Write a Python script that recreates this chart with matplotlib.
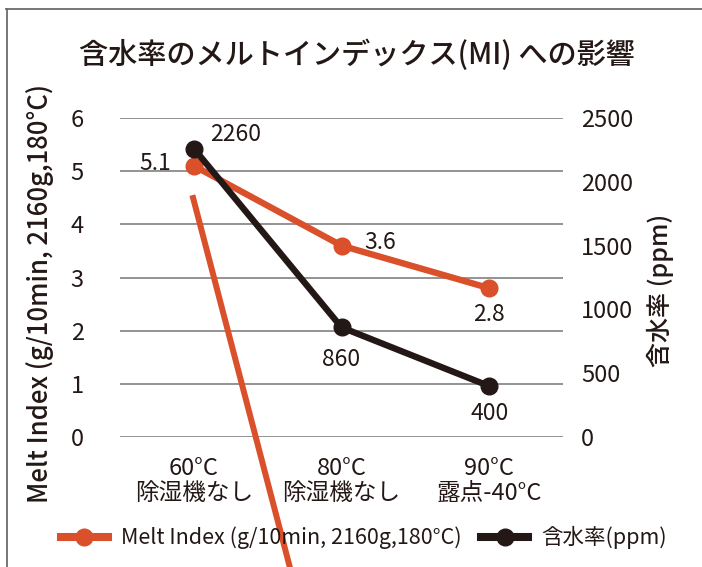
import matplotlib.pyplot as plt
from matplotlib.lines import Line2D

plt.rcParams['font.family'] = ['Noto Sans CJK JP', 'DejaVu Sans']

# Data
categories = ["60°C\n除湿機なし", "80°C\n除湿機なし", "90°C\n露点-40°C"]
melt_index = [5.1, 3.6, 2.8]
water_ppm = [2260, 860, 400]
mi_label_offsets = [(-28, 2), (28, 2), (0, -19)]
ppm_label_offsets = [(30, 10), (0, -23), (0, -20)]

orange = "#D9502A"
black = "#231815"
grid_gray = "#8a8a8a"
text_color = "#231815"

fig = plt.figure(figsize=(7.02, 5.67), dpi=100)
ax = fig.add_axes([0.171, 0.229, 0.631, 0.563])
ax2 = ax.twinx()

x = range(len(categories))

# Melt Index on the left axis, water content on the right axis
ax.plot(x, melt_index, color=orange, lw=4.6, marker="o", ms=12, zorder=3)
ax2.plot(x, water_ppm, color=black, lw=4.6, marker="o", ms=12, zorder=3)

for xi, v, off in zip(x, melt_index, mi_label_offsets):
    ax.annotate(f"{v}", (xi, v), xytext=off, textcoords="offset points",
                ha="center", va="center", fontsize=16.5, color=text_color)
for xi, v, off in zip(x, water_ppm, ppm_label_offsets):
    ax2.annotate(f"{v}", (xi, v), xytext=off, textcoords="offset points",
                 ha="center", va="center", fontsize=16.5, color=text_color)

ax.set_xlim(-0.5, 2.5)
ax.set_ylim(0, 6)
ax2.set_ylim(0, 2500)
ax.set_yticks(range(0, 7))
ax2.set_yticks(range(0, 2501, 500))
ax.set_xticks(list(x))
ax.set_xticklabels(categories, fontsize=16.5, color=text_color, linespacing=1.15)

ax.grid(axis="y", color=grid_gray, lw=1.3)
ax.set_axisbelow(True)
for a in (ax, ax2):
    for s in a.spines.values():
        s.set_visible(False)
    a.tick_params(length=0, labelsize=17, colors=text_color)
ax.tick_params(axis="y", pad=26)
ax.tick_params(axis="x", pad=14)
ax2.tick_params(axis="y", pad=13)

ax.set_ylabel("Melt Index (g/10min, 2160g,180°C)", fontsize=18.5,
              fontweight="medium", color=text_color)
ax.yaxis.set_label_coords(-0.15, 0.45)
ax2.set_ylabel("含水率 (ppm)", fontsize=18, fontweight="medium",
               color=text_color)
ax2.yaxis.set_label_coords(1.19, 0.46)

fig.text(0.508, 0.903, "含水率のメルトインデックス(MI) への影響", ha="center",
         va="center", fontsize=21, fontweight="medium", color=text_color)

# stray leader line running off the bottom of the chart
ax.add_line(Line2D([0.165, 0.391], [0.749, -0.448], transform=ax.transAxes,
                   color=orange, lw=4.3, clip_on=False, zorder=4))

handles = [
    Line2D([], [], color=orange, lw=5.8, marker="o", ms=12),
    Line2D([], [], color=black, lw=5.8, marker="o", ms=12),
]
fig.legend(handles, ["Melt Index (g/10min, 2160g,180°C)", "含水率(ppm)"],
           loc="center", bbox_to_anchor=(0.518, 0.052), ncol=2, frameon=False,
           fontsize=15.5, handlelength=2.2, columnspacing=0.9, handletextpad=0.6,
           labelcolor=text_color)

# frame lines along the top and left edges
fig.add_artist(Line2D([0.009, 1.0], [0.985, 0.985], color="#6b6b6b", lw=1.3))
fig.add_artist(Line2D([0.01, 0.01], [0.0, 0.985], color="#6b6b6b", lw=1.3))

fig.savefig("out.png", dpi=100)
